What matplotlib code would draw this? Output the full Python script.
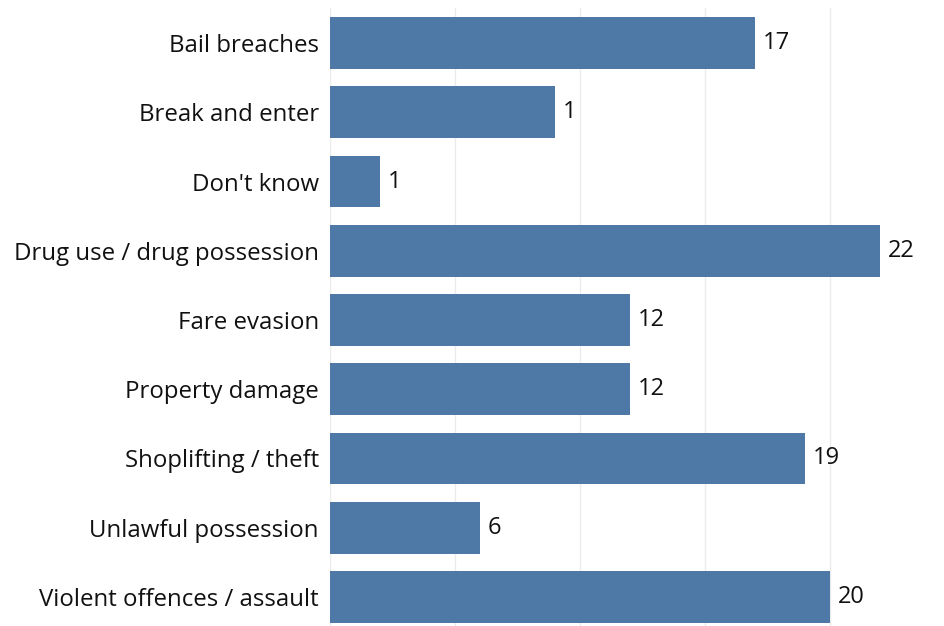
import matplotlib
matplotlib.use("Agg")
import matplotlib.pyplot as plt

categories = ["Bail breaches", "Break and enter", "Don't know",
              "Drug use / drug possession", "Fare evasion", "Property damage",
              "Shoplifting / theft", "Unlawful possession", "Violent offences / assault"]
values = [17, 9, 2, 22, 12, 12, 19, 6, 20]
value_labels = ["17", "1", "1", "22", "12", "12", "19", "6", "20"]
xticks = [0, 5, 10, 15, 20]

plt.rcParams['font.family'] = ['Open Sans', 'DejaVu Sans']

W, H = 944, 626
fig = plt.figure(figsize=(W / 100, H / 100), dpi=100)
left = 330 / W
width = 600 / W
top_px = 8.4
bottom_px = 631.6
ax = fig.add_axes([left, (H - bottom_px) / H, width, (bottom_px - top_px) / H])

y = list(range(len(categories)))
ax.barh(y, values, height=0.75, color="#4e79a7", zorder=2)
for yi, v, lab in zip(y, values, value_labels):
    ax.text(v + 0.3, yi, lab, va="center", ha="left", fontsize=17, color="#111111")

ax.set_yticks(y)
ax.set_yticklabels(categories, fontsize=17.3, color="#111111")
ax.set_xticks(xticks)
ax.set_xticklabels([])
ax.tick_params(axis="both", length=0)
ax.tick_params(axis="y", pad=8)
ax.set_xlim(0, 24)
ax.set_ylim(len(categories) - 0.5, -0.5)
ax.grid(axis="x", color="#ebebeb", linewidth=1, zorder=0)
for s in ax.spines.values():
    s.set_visible(False)

fig.savefig("out.png", dpi=100)
